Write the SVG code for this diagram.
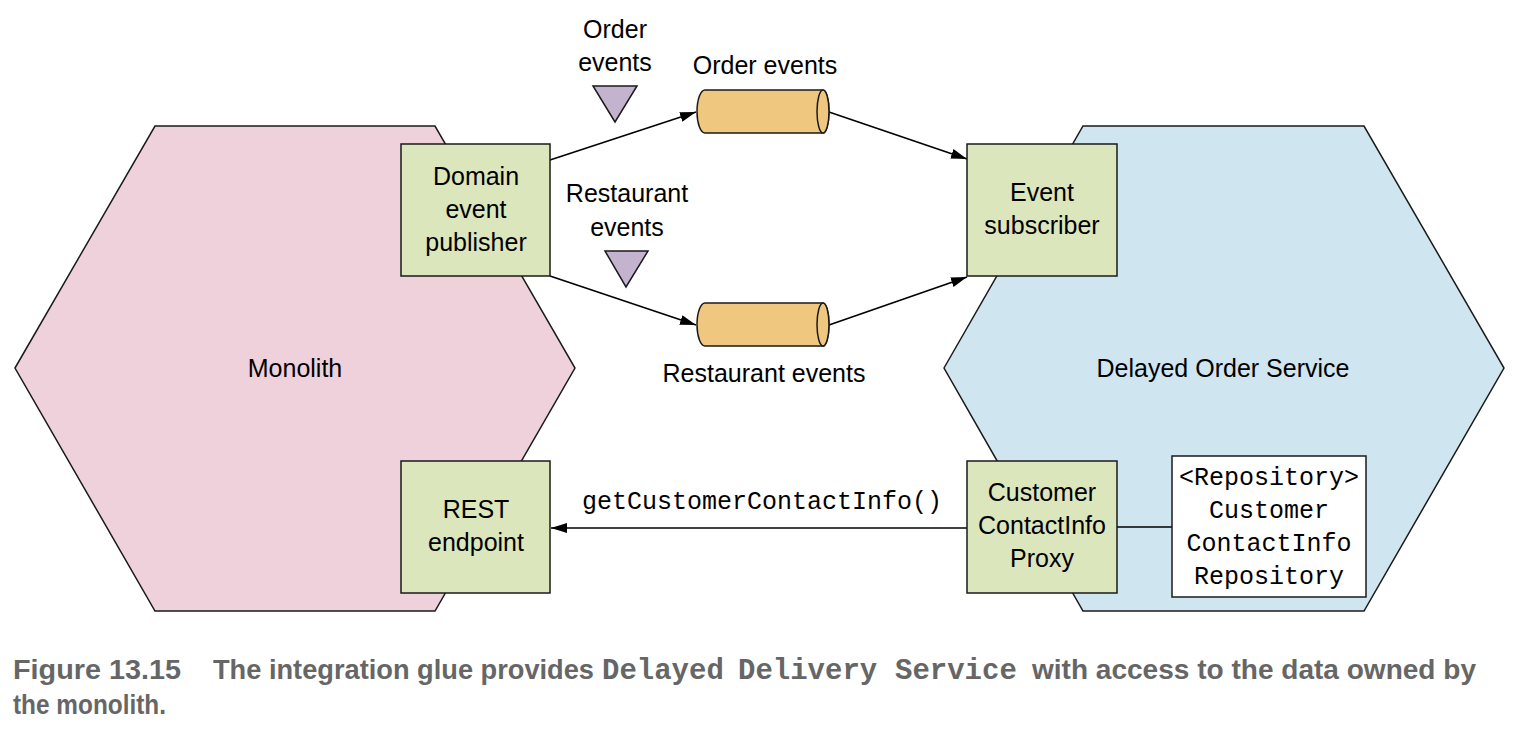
<svg xmlns="http://www.w3.org/2000/svg" width="1518" height="734" viewBox="0 0 1518 734">
<style>
.lbl{font-family:"Liberation Sans",Arial,sans-serif;font-size:25px;fill:#000;text-anchor:middle}
.mono{font-family:"Liberation Mono","Courier New",monospace;font-size:25px;fill:#000;text-anchor:middle}
.box{fill:#dce6bd;stroke:#1a1a1a;stroke-width:1.5}
.hex{stroke:#1a1a1a;stroke-width:1.5}
.conn{stroke:#000;stroke-width:1.6;fill:none}
.cyl{fill:#efc77f;stroke:#1a1a1a;stroke-width:1.5}
.tri{fill:#c3b3ce;stroke:#1a1a1a;stroke-width:1.5}
.cap{font-family:"Liberation Sans Narrow","Liberation Sans",Arial,sans-serif;font-weight:bold;font-size:27px;fill:#666}
.capm{font-family:"Liberation Mono","Courier New",monospace;font-weight:bold;font-size:29px;fill:#666}
</style>
<defs>
<marker id="arr" viewBox="0 0 16 10" refX="16" refY="5" markerWidth="16" markerHeight="10" markerUnits="userSpaceOnUse" orient="auto">
<path d="M0,0 L16,5 L0,10 Z" fill="#000"/>
</marker>
</defs>
<rect width="1518" height="734" fill="#fff"/>

<g id="monolith">
<polygon class="hex" fill="#efd1dc" points="15,368 155,126 435,126 575,368 435,611 155,611"/>
<text class="lbl" x="295" y="377">Monolith</text>
</g>
<g id="delayed-order-service">
<polygon class="hex" fill="#cfe6f0" points="944,368 1083,126 1364,126 1504,368 1364,611 1083,611"/>
<text class="lbl" x="1223" y="377">Delayed Order Service</text>
</g>

<g id="connectors">
<line class="conn" x1="550" y1="160" x2="696" y2="112" marker-end="url(#arr)"/>
<line class="conn" x1="829" y1="112" x2="967" y2="159" marker-end="url(#arr)"/>
<line class="conn" x1="550" y1="276" x2="696" y2="325" marker-end="url(#arr)"/>
<line class="conn" x1="829" y1="325" x2="967" y2="277" marker-end="url(#arr)"/>
<line class="conn" x1="967" y1="528" x2="551" y2="528" marker-end="url(#arr)"/>
<line class="conn" x1="1117" y1="527" x2="1172" y2="527"/>
<text class="mono" x="762" y="509">getCustomerContactInfo()</text>
</g>

<g id="domain-event-publisher">
<rect class="box" x="401" y="144" width="149" height="132"/>
<text class="lbl" x="476" y="185">Domain</text>
<text class="lbl" x="476" y="218">event</text>
<text class="lbl" x="476" y="251">publisher</text>
</g>
<g id="rest-endpoint">
<rect class="box" x="401" y="461" width="149" height="132"/>
<text class="lbl" x="476" y="518">REST</text>
<text class="lbl" x="476" y="551">endpoint</text>
</g>
<g id="event-subscriber">
<rect class="box" x="967" y="144" width="150" height="132"/>
<text class="lbl" x="1042" y="201">Event</text>
<text class="lbl" x="1042" y="234">subscriber</text>
</g>
<g id="customer-contactinfo-proxy">
<rect class="box" x="967" y="461" width="150" height="132"/>
<text class="lbl" x="1042" y="501">Customer</text>
<text class="lbl" x="1042" y="534">ContactInfo</text>
<text class="lbl" x="1042" y="567">Proxy</text>
</g>
<g id="repository">
<rect x="1172" y="456" width="194" height="141" fill="#fff" stroke="#1a1a1a" stroke-width="1.5"/>
<text class="mono" x="1269" y="485">&lt;Repository&gt;</text>
<text class="mono" x="1269" y="518">Customer</text>
<text class="mono" x="1269" y="551">ContactInfo</text>
<text class="mono" x="1269" y="584">Repository</text>
</g>

<g id="order-events-channel">
<path class="cyl" d="M705,90 L823,90 A6,21.5 0 0 1 823,133 L705,133 A8,21.5 0 0 1 705,90 Z"/>
<ellipse class="cyl" cx="823" cy="111.5" rx="6" ry="21.5"/>
<text class="lbl" x="765" y="74">Order events</text>
</g>
<g id="restaurant-events-channel">
<path class="cyl" d="M705,303 L823,303 A6,21.5 0 0 1 823,346 L705,346 A8,21.5 0 0 1 705,303 Z"/>
<ellipse class="cyl" cx="823" cy="324.5" rx="6" ry="21.5"/>
<text class="lbl" x="764" y="382">Restaurant events</text>
</g>
<g id="order-events-type">
<polygon class="tri" points="593,86 637,86 615,122"/>
<text class="lbl" x="615" y="38">Order</text>
<text class="lbl" x="615" y="71">events</text>
</g>
<g id="restaurant-events-type">
<polygon class="tri" points="605,251 648,251 626,287"/>
<text class="lbl" x="627" y="202">Restaurant</text>
<text class="lbl" x="627" y="236">events</text>
</g>

<g id="caption">
<text class="cap" x="13" y="679" textLength="168" lengthAdjust="spacingAndGlyphs">Figure 13.15</text>
<text class="cap" x="213" y="679" textLength="381" lengthAdjust="spacingAndGlyphs">The integration glue provides</text>
<text class="capm" y="679"><tspan x="602">Delayed</tspan> <tspan x="738">Delivery</tspan> <tspan x="895">Service</tspan></text>
<text class="cap" x="1032" y="679" textLength="444" lengthAdjust="spacingAndGlyphs">with access to the data owned by</text>
<text class="cap" x="13" y="714" textLength="153" lengthAdjust="spacingAndGlyphs">the monolith.</text>
</g>
</svg>
